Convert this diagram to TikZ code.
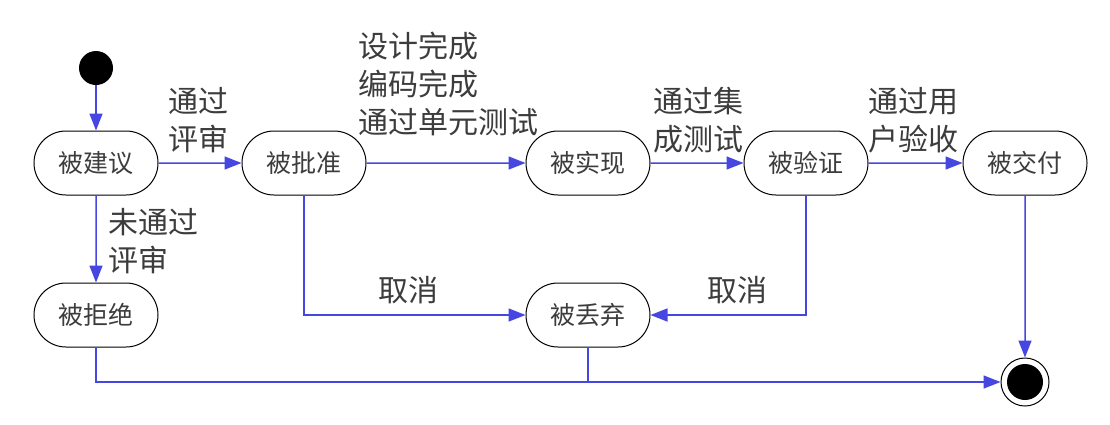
\documentclass[tikz,border=0pt]{standalone}
\usepackage{fontspec}
\newfontfamily\cjk{Noto Sans CJK SC}
\usetikzlibrary{shapes.misc,arrows.meta}
\definecolor{flowblue}{RGB}{70,70,225}
\definecolor{txtgray}{RGB}{60,60,60}
\begin{document}
\begin{tikzpicture}[x=1pt,y=-1pt,
  state/.style={rounded rectangle, draw=black, line width=1pt, minimum width=124pt,
    minimum height=64pt, inner sep=0pt, text=txtgray, font=\cjk\fontsize{25}{30}\selectfont},
  lbl/.style={text=txtgray, align=left, inner sep=0pt, font=\cjk\fontsize{30}{38}\selectfont},
  flow/.style={draw=flowblue, line width=1.5pt, -{Triangle[length=17pt,width=13pt]}},
  plain/.style={draw=flowblue, line width=1.5pt}]
\useasboundingbox (0,0) rectangle (1110,424);
\fill[white] (0,0) rectangle (1110,424);
% start and end
\node[circle, fill=black, minimum size=34pt, inner sep=0pt] (start) at (96,68) {};
\node[circle, draw=black, line width=1pt, minimum size=48pt, inner sep=0pt] (fin) at (1025,382) {};
\fill[black] (fin.center) circle (18pt);
% states
\node[state] (prop) at (96,163) {被建议};
\node[state] (appr) at (304,163) {被批准};
\node[state] (impl) at (588,163) {被实现};
\node[state] (ver) at (806,163) {被验证};
\node[state] (del) at (1025,163) {被交付};
\node[state] (rej) at (96,315) {被拒绝};
\node[state] (aban) at (588,315) {被丢弃};
% labels
\node[lbl, anchor=west] (l1) at (168,120) {通过\\评审};
\node[lbl, anchor=west] (l2) at (358,84) {设计完成\\编码完成\\通过单元测试};
\node[lbl, anchor=west] (l3) at (653,120) {通过集\\成测试};
\node[lbl, anchor=west] (l4) at (868,120) {通过用\\户验收};
\node[lbl, anchor=west] (l5) at (108,241) {未通过\\评审};
\node[lbl] (l6) at (408,290) {取消};
\node[lbl] (l7) at (737,290) {取消};
% connectors
\draw[flow] (start) -- (prop);
\draw[flow] (prop) -- (appr);
\draw[flow] (appr) -- (impl);
\draw[flow] (impl) -- (ver);
\draw[flow] (ver) -- (del);
\draw[flow] (prop) -- (rej);
\draw[flow] (appr.south) |- (aban.west);
\draw[flow] (ver.south) |- (aban.east);
\draw[flow] (del) -- (fin);
\draw[flow] (rej.south) |- (fin.west);
\draw[plain] (aban.south) -- (aban.south |- fin.west);
\end{tikzpicture}
\end{document}
